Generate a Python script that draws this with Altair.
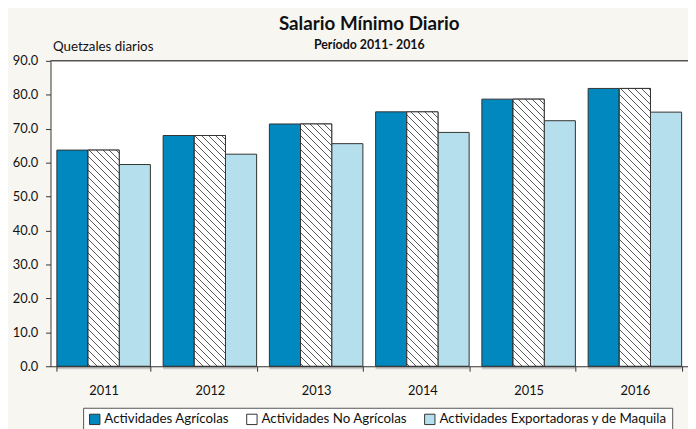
import altair as alt

years = ["2011", "2012", "2013", "2014", "2015", "2016"]
series = ["Actividades Agrícolas", "Actividades No Agrícolas", "Actividades Exportadoras y de Maquila"]
agricolas = [63.70, 68.00, 71.40, 74.97, 78.72, 81.87]
no_agricolas = [63.70, 68.00, 71.40, 74.97, 78.72, 81.87]
exportadoras = [59.45, 62.50, 65.60, 68.91, 72.36, 74.89]

colors = ["#0088BF", "#FFFFFF", "#B5DFEC"]
FONT = "Lato"
W, H = 645, 309
Y_MAX = 90
P_IN = 0.12

rows = []
for i, y in enumerate(years):
    for s, vals in zip(series, [agricolas, no_agricolas, exportadoras]):
        rows.append({"year": y, "series": s, "value": vals[i]})

# hatch fill (diagonal lines) as per-bar linear gradient in bbox units
step = W / len(years)
bw = step * (1 - P_IN) / 3.0
PERIOD, LW, HATCH = 7.0, 1.0, "#5a5a5a"


def hatch(v):
    h = v / Y_MAX * H
    L = bw + h
    k = L / (bw * bw + h * h)
    stops = [{"offset": 0, "color": "white"}]
    c = 2.0
    while c + LW < L:
        a, b = c / L, (c + LW) / L
        stops += [{"offset": a, "color": "white"}, {"offset": a, "color": HATCH},
                  {"offset": b, "color": HATCH}, {"offset": b, "color": "white"}]
        c += PERIOD
    stops.append({"offset": 1, "color": "white"})
    return {"gradient": "linear", "x1": 0, "y1": 1, "x2": bw * k, "y2": 1 - h * k, "stops": stops}


hatch_rows = [{"year": r["year"], "series": r["series"], "value": r["value"], "grad": hatch(r["value"])}
              for r in rows if r["series"] == series[1]]

x_enc = alt.X("year:N", sort=years, scale=alt.Scale(paddingInner=P_IN, paddingOuter=P_IN / 2),
              axis=alt.Axis(title=None, tickBand="extent", labelAngle=0, tickSize=5, labelFontSize=13,
                            labelPadding=14, labelColor="#111", domainColor="#333", tickColor="#333",
                            labelFont=FONT, zindex=1))
xo_enc = alt.XOffset("series:N", sort=series, scale=alt.Scale(domain=series, paddingInner=0, paddingOuter=0))
y_enc = alt.Y("value:Q", scale=alt.Scale(domain=[0, Y_MAX], nice=False),
              axis=alt.Axis(values=list(range(0, 91, 10)), format=".1f", grid=False, tickSize=5,
                            labelFontSize=13, labelPadding=8, labelColor="#111", labelFont=FONT,
                            domainColor="#333", tickColor="#333",
                            title="Quetzales diarios", titleAngle=0, titleAlign="left",
                            titleBaseline="alphabetic", titleX=2, titleY=-10, titleFontSize=13.5,
                            titleFontWeight="normal", titleFont=FONT, titleColor="#111"))

base_data = alt.Data(values=rows)

shadow = alt.Chart(base_data).mark_bar(color="#c9c9c9", xOffset=3, x2Offset=3, yOffset=3, y2Offset=3).encode(
    x=x_enc, xOffset=xo_enc, y=y_enc)

bars = alt.Chart(base_data).mark_bar(stroke="#333", strokeWidth=1).encode(
    x=x_enc, xOffset=xo_enc, y=y_enc,
    color=alt.Color("series:N", sort=series, scale=alt.Scale(domain=series, range=colors),
                    legend=alt.Legend(title=None, orient="none", legendX=33, legendY=351,
                                      direction="horizontal", fillColor="white", strokeColor="#555",
                                      padding=5, symbolType="square", symbolSize=110,
                                      symbolStrokeColor="#333", symbolStrokeWidth=1,
                                      labelFontSize=13.5, labelFont=FONT, labelColor="#111",
                                      labelOffset=3, columnPadding=15, labelLimit=400)))

hatched = alt.Chart(alt.Data(values=hatch_rows)).mark_bar(stroke="#333", strokeWidth=1).encode(
    x=x_enc, xOffset=xo_enc, y=y_enc,
    fill=alt.Fill("grad:N", scale=None))

top_line = alt.Chart(alt.Data(values=[{}])).mark_rule(color="#555", strokeWidth=1.5).encode(
    x=alt.value(0), x2=alt.value(W), y=alt.value(0))

chart = alt.layer(shadow, bars, hatched, top_line).properties(
    width=W, height=H,
    autosize=alt.AutoSizeParams(type="none"),
    padding={"left": 43, "top": 51, "right": 0, "bottom": 61},
    background="#F8F6F1",
    title=alt.TitleParams("Salario Mínimo Diario", subtitle="Período 2011- 2016", anchor="middle",
                          frame="group",
                          fontSize=19, font=FONT, fontWeight="bold", color="#111",
                          subtitleFontSize=12.5, subtitleFont=FONT, subtitleFontWeight="bold",
                          subtitleColor="#111", subtitlePadding=6, offset=-12),
).configure_view(stroke=None, fill="white")

chart.save("out.html", embed_options={"renderer": "svg", "actions": False})
